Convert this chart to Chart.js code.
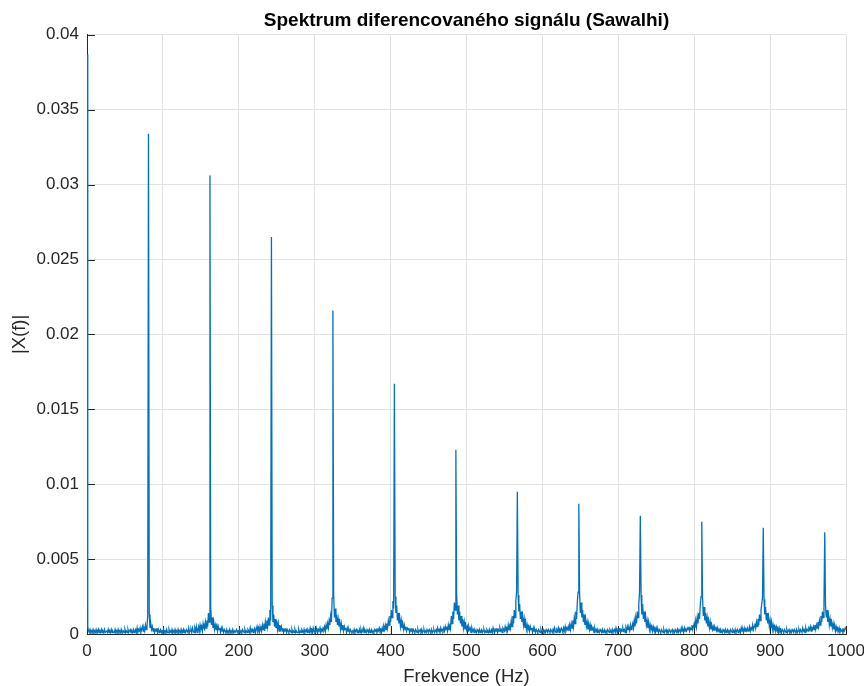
<!DOCTYPE html>
<html>
<head>
<meta charset="utf-8">
<script src="https://cdn.jsdelivr.net/npm/chart.js@4.4.1/dist/chart.umd.min.js"></script>
<style>
  body { margin: 0; background: #fff; }
  canvas { display: block; }
</style>
</head>
<body>
<canvas id="spectrum" width="864" height="686"></canvas>
<script>
// spectrum bins are 1 Hz apart, starting at 0 Hz
const binHz = 1;

// |X(f)|, in units of 1e-4, ten bins per row (0..1000 Hz)
const magE4 = [
  387, 5, 2, 1, 3, 1, 2, 1, 3, 1,
  2, 1, 3, 1, 1, 3, 1, 2, 1, 3,
  1, 2, 1, 3, 1, 1, 2, 1, 3, 1,
  2, 1, 3, 1, 2, 1, 1, 3, 1, 2,
  1, 3, 1, 2, 1, 3, 1, 1, 2, 1,
  3, 1, 2, 1, 3, 1, 2, 3, 1, 2,
  1, 3, 1, 2, 3, 1, 4, 1, 3, 2,
  4, 1, 3, 5, 2, 4, 2, 6, 3, 5,
  12, 334, 13, 4, 7, 3, 5, 2, 4, 1,
  3, 2, 4, 1, 3, 1, 2, 3, 1, 2,
  1, 3, 1, 2, 1, 3, 1, 1, 3, 1,
  2, 1, 3, 1, 2, 1, 3, 1, 2, 1,
  3, 1, 2, 1, 3, 1, 1, 3, 1, 2,
  1, 3, 2, 1, 4, 1, 2, 3, 1, 4,
  2, 1, 4, 2, 5, 1, 3, 5, 2, 6,
  3, 5, 2, 7, 4, 3, 8, 4, 9, 5,
  14, 8, 306, 18, 6, 11, 4, 8, 3, 6,
  3, 7, 2, 5, 3, 4, 1, 4, 2, 3,
  1, 3, 2, 1, 3, 1, 2, 1, 3, 1,
  2, 1, 3, 1, 2, 1, 1, 3, 1, 2,
  1, 3, 1, 2, 1, 3, 2, 1, 3, 1,
  2, 1, 3, 2, 1, 4, 1, 2, 3, 1,
  3, 4, 1, 3, 5, 2, 4, 1, 5, 3,
  2, 6, 3, 7, 2, 8, 4, 9, 5, 11,
  6, 16, 9, 265, 19, 8, 13, 5, 10, 4,
  9, 3, 7, 2, 6, 3, 5, 2, 4, 1,
  3, 2, 4, 1, 3, 2, 1, 3, 2, 1,
  3, 1, 2, 1, 3, 1, 2, 1, 1, 3,
  1, 2, 1, 3, 2, 1, 3, 1, 2, 3,
  1, 3, 2, 1, 4, 2, 3, 1, 4, 2,
  2, 1, 4, 2, 1, 3, 2, 4, 1, 3,
  2, 4, 3, 5, 2, 6, 3, 7, 4, 9,
  6, 12, 8, 24, 216, 26, 11, 17, 8, 13,
  6, 10, 5, 8, 3, 7, 3, 6, 2, 5,
  3, 4, 1, 4, 2, 3, 1, 3, 2, 1,
  2, 1, 3, 1, 2, 3, 1, 2, 1, 3,
  1, 3, 1, 2, 4, 1, 3, 2, 1, 3,
  2, 1, 3, 1, 2, 3, 1, 2, 1, 3,
  2, 3, 1, 3, 2, 4, 2, 3, 1, 4,
  2, 5, 3, 6, 3, 7, 4, 9, 6, 12,
  8, 16, 11, 22, 17, 167, 25, 14, 19, 9,
  14, 7, 11, 5, 9, 4, 7, 3, 6, 3,
  5, 2, 4, 3, 4, 1, 3, 2, 4, 1,
  3, 2, 1, 3, 2, 1, 3, 1, 2, 3,
  1, 3, 1, 2, 3, 1, 2, 1, 3, 2,
  1, 3, 2, 1, 3, 1, 2, 3, 1, 2,
  3, 1, 4, 2, 3, 1, 4, 2, 3, 2,
  4, 2, 5, 3, 5, 2, 6, 3, 7, 4,
  12, 7, 15, 10, 21, 16, 123, 27, 13, 19,
  9, 15, 7, 12, 5, 10, 4, 8, 3, 6,
  3, 5, 2, 5, 3, 4, 1, 4, 2, 3,
  1, 3, 2, 1, 3, 2, 1, 3, 1, 2,
  3, 1, 2, 3, 1, 2, 1, 3, 2, 1,
  3, 1, 2, 3, 1, 4, 2, 1, 3, 2,
  4, 1, 3, 2, 4, 2, 3, 1, 4, 3,
  2, 5, 3, 4, 2, 6, 3, 7, 4, 9,
  5, 12, 7, 16, 11, 22, 28, 95, 26, 15,
  20, 10, 15, 8, 12, 6, 10, 4, 8, 3,
  6, 3, 5, 2, 5, 3, 4, 1, 4, 2,
  3, 1, 3, 2, 1, 3, 2, 1, 3, 1,
  2, 3, 1, 2, 1, 3, 2, 1, 3, 2,
  1, 3, 2, 1, 3, 1, 4, 2, 1, 3,
  2, 4, 1, 3, 2, 4, 3, 1, 4, 2,
  5, 2, 4, 3, 5, 2, 6, 3, 7, 4,
  9, 5, 11, 7, 15, 10, 21, 28, 87, 27,
  14, 21, 11, 16, 8, 13, 6, 10, 5, 8,
  3, 7, 3, 6, 2, 5, 3, 4, 1, 4,
  2, 3, 1, 3, 2, 1, 3, 2, 1, 3,
  1, 2, 3, 1, 2, 1, 3, 2, 1, 3,
  2, 1, 3, 1, 2, 3, 1, 4, 2, 1,
  3, 2, 4, 1, 3, 2, 4, 2, 3, 1,
  4, 2, 5, 3, 4, 2, 6, 3, 5, 7,
  4, 9, 5, 11, 7, 15, 11, 20, 28, 79,
  26, 13, 20, 10, 15, 8, 12, 6, 9, 4,
  8, 3, 6, 3, 5, 2, 5, 3, 4, 1,
  4, 2, 3, 1, 3, 2, 1, 3, 2, 1,
  3, 1, 2, 3, 1, 2, 1, 3, 2, 1,
  2, 3, 1, 2, 1, 3, 2, 1, 3, 1,
  3, 2, 1, 4, 2, 3, 1, 4, 2, 3,
  2, 4, 3, 5, 2, 4, 3, 6, 3, 5,
  7, 4, 9, 5, 11, 7, 14, 10, 19, 25,
  75, 24, 12, 18, 9, 14, 7, 11, 5, 9,
  4, 8, 3, 6, 3, 5, 2, 5, 3, 4,
  1, 4, 2, 3, 1, 3, 2, 1, 3, 2,
  1, 3, 1, 2, 3, 1, 2, 1, 3, 2,
  1, 3, 2, 1, 3, 1, 2, 3, 1, 2,
  3, 1, 4, 2, 3, 1, 4, 2, 3, 2,
  4, 2, 3, 5, 2, 4, 3, 6, 3, 5,
  7, 4, 8, 5, 10, 6, 13, 9, 16, 20,
  24, 71, 23, 13, 18, 9, 14, 7, 11, 5,
  9, 4, 8, 3, 6, 3, 5, 2, 5, 3,
  4, 1, 4, 2, 3, 1, 3, 2, 1, 3,
  2, 1, 3, 1, 2, 3, 1, 2, 1, 3,
  2, 1, 3, 2, 1, 3, 1, 2, 3, 1,
  3, 2, 1, 4, 2, 3, 1, 4, 2, 3,
  2, 4, 3, 5, 2, 4, 3, 5, 3, 6,
  3, 6, 4, 8, 5, 9, 6, 12, 8, 15,
  11, 21, 68, 19, 11, 16, 8, 12, 6, 10,
  5, 8, 4, 7, 3, 6, 2, 5, 3, 4,
  2, 4, 1, 3, 2, 3, 1, 3, 2, 4,
  3
];

const xTicksHz = [0, 100, 200, 300, 400, 500, 600, 700, 800, 900, 1000];
const yTicks = [0, 0.005, 0.01, 0.015, 0.02, 0.025, 0.03, 0.035, 0.04];

const FONT = '"Liberation Sans", Arial, Helvetica, sans-serif';
const INK = '#262626';
const GRID = '#e2e2e2';

const points = magE4.map((m, i) => ({ x: i * binHz, y: m / 1e4 }));

// MATLAB style ticks pointing into the axes
const inwardTicks = {
  id: 'inwardTicks',
  beforeDatasetsDraw(chart) {
    const { ctx, chartArea, scales } = chart;
    ctx.save();
    ctx.strokeStyle = INK;
    ctx.lineWidth = 1;
    ctx.beginPath();
    xTicksHz.forEach(v => {
      const px = Math.round(scales.x.getPixelForValue(v)) + 0.5;
      ctx.moveTo(px, chartArea.bottom);
      ctx.lineTo(px, chartArea.bottom - 8);
    });
    yTicks.forEach(v => {
      const py = Math.round(scales.y.getPixelForValue(v)) + 0.5;
      ctx.moveTo(chartArea.left, py);
      ctx.lineTo(chartArea.left + 8, py);
    });
    ctx.stroke();
    ctx.restore();
  }
};

new Chart(document.getElementById('spectrum'), {
  type: 'line',
  data: {
    datasets: [{
      label: '|X(f)|',
      data: points,
      borderColor: '#0072BD',
      borderWidth: 1.3,
      pointRadius: 0,
      tension: 0,
      fill: false
    }]
  },
  options: {
    responsive: false,
    animation: false,
    devicePixelRatio: 1,
    layout: { padding: { left: 0, right: 18, top: 0, bottom: 0 } },
    plugins: {
      legend: { display: false },
      tooltip: { enabled: false },
      title: {
        display: true,
        fullSize: false,
        text: 'Spektrum diferencovaného signálu (Sawalhi)',
        color: '#000',
        font: { family: FONT, size: 19, weight: 'bold' },
        padding: { top: 9, bottom: 3 }
      }
    },
    scales: {
      x: {
        type: 'linear',
        min: 0,
        max: 1000,
        afterBuildTicks: s => { s.ticks = xTicksHz.map(v => ({ value: v })); },
        afterFit: s => { s.height = 52; s.paddingLeft = 0; s.paddingRight = 0; },
        ticks: {
          color: INK,
          font: { family: FONT, size: 17 },
          padding: 7,
          maxRotation: 0,
          autoSkip: false,
          callback: v => String(v)
        },
        grid: { color: GRID, drawTicks: false },
        border: { display: true, color: INK, width: 1 },
        title: {
          display: true,
          text: 'Frekvence (Hz)',
          color: INK,
          font: { family: FONT, size: 18.5 },
          padding: { top: 0, bottom: -2 }
        }
      },
      y: {
        min: 0,
        max: 0.04,
        afterBuildTicks: s => { s.ticks = yTicks.map(v => ({ value: v })); },
        afterFit: s => { s.width = 87; s.paddingTop = 0; s.paddingBottom = 0; },
        ticks: {
          color: INK,
          font: { family: FONT, size: 17 },
          padding: 8,
          callback: v => String(+v.toFixed(3))
        },
        grid: { color: GRID, drawTicks: false },
        border: { display: true, color: INK, width: 1 },
        title: {
          display: true,
          text: '|X(f)|',
          color: INK,
          font: { family: FONT, size: 18.5 },
          padding: { top: 9, bottom: 0 }
        }
      }
    }
  },
  plugins: [inwardTicks]
});
</script>
</body>
</html>
